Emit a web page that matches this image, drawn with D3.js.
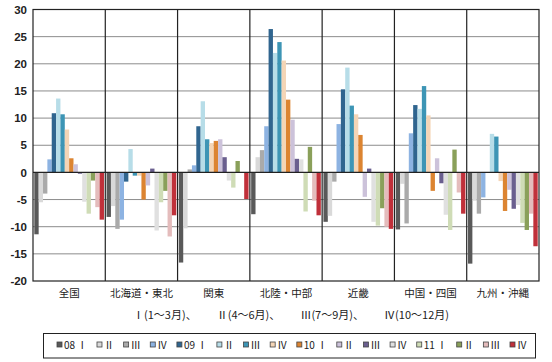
<!DOCTYPE html>
<html><head><meta charset="utf-8">
<script src="https://cdn.jsdelivr.net/npm/d3@7"></script>
<style>
body{margin:0;background:#fff;}
svg{display:block;}
text{font-family:"Noto Sans CJK JP","Noto Sans",sans-serif;fill:#222;}
</style></head>
<body>
<svg id="c" width="552" height="362"></svg>
<script>
const regions = ["全国","北海道・東北","関東","北陸・中部","近畿","中国・四国","九州・沖縄"];
const seriesLabels = ["08 Ⅰ","Ⅱ","Ⅲ","Ⅳ","09 Ⅰ","Ⅱ","Ⅲ","Ⅳ","10 Ⅰ","Ⅱ","Ⅲ","Ⅳ","11 Ⅰ","Ⅱ","Ⅲ","Ⅳ"];
const seriesColors = ["#595959","#d9d9d9","#aaaaaa","#8db3e2","#30658f","#b7dde8","#3d95b5","#f4d5b6",
                      "#dc8431","#ccc2da","#6a5f8f","#e0e0e0","#cfdcb6","#8aa05a","#e4bcbc","#c0303a"];
// values[regionIndex][seriesIndex]
const zenkoku   = [-11.4,-5.5,-3.9, 2.4,10.9,13.6,10.7, 7.9, 2.6, 1.5,-0.25,-5.4,-7.6,-1.5,-6.4,-8.7];
const hokkaido  = [-8.2,-6.2,-10.4,-8.7,-1.7, 4.3,-0.6,-0.6,-5.0,-2.4, 0.7,-10.7,-5.5,-3.4,-11.8,-7.9];
const kanto     = [-16.6,-10.3, 0.55, 1.3, 8.5,13.1, 6.1, 5.4, 5.8, 6.1, 2.8,-1.5,-2.8, 2.1, 0,-4.9];
const hokuriku  = [-7.7, 2.8, 4.1, 8.5,26.4,22.0,24.0,20.6,13.4, 9.7, 2.5, 2.4,-7.2, 4.7,-5.2,-7.9];
const kinki     = [-9.1,-8.0,-1.7, 8.9,15.3,19.3,12.3,10.7, 6.9,-4.5, 0.7,-9.1,-9.8,-6.6,-10.0,-10.4];
const chugoku   = [-10.5,-2.1,-9.4, 7.2,12.4,11.7,15.9,10.5,-3.4, 2.6,-2.0,-7.8,-10.6, 4.2,-3.7,-7.6];
const kyushu    = [-16.8,-5.2,-7.6,-4.6, 0, 7.1, 6.6,-1.6,-7.1,-3.2,-6.7,-6.0,-9.3,-10.6,-7.6,-13.6];
const values = [zenkoku,hokkaido,kanto,hokuriku,kinki,chugoku,kyushu];
const yTicks = [30,25,20,15,10,5,0,-5,-10,-15,-20];
const subtitleParts = ["Ⅰ(1～3月)、","Ⅱ(4～6月)、","Ⅲ(7～9月)、","Ⅳ(10～12月)"];

const svg = d3.select("#c");
const L=33, R=539, T=9.5, B=281;
const x0 = d3.scaleBand().domain(regions).range([L,R]).padding(0);
const x1 = d3.scaleBand().domain(d3.range(16)).range([0,x0.bandwidth()]).paddingInner(0).paddingOuter(0.3);
const y = d3.scaleLinear().domain([-20,30]).range([B,T]);

// gridlines
svg.append("g").selectAll("line").data(yTicks.filter(t=>t!==0 && t!==30 && t!==-20)).join("line")
  .attr("x1",L).attr("x2",R).attr("y1",d=>y(d)).attr("y2",d=>y(d))
  .attr("stroke","#8c8c8c").attr("stroke-width",1);

// bars
const g = svg.append("g");
regions.forEach((r,ri)=>{
  g.append("g").selectAll("rect").data(values[ri]).join("rect")
    .attr("x",(d,i)=>x0(r)+x1(i))
    .attr("width",x1.bandwidth())
    .attr("y",d=>y(Math.max(0,d)))
    .attr("height",d=>Math.abs(y(d)-y(0)))
    .attr("fill",(d,i)=>seriesColors[i]);
});

// zero line
svg.append("line").attr("x1",L).attr("x2",R).attr("y1",y(0)).attr("y2",y(0))
  .attr("stroke","#222").attr("stroke-width",1.2);
// dividers
svg.append("g").selectAll("line").data(regions.slice(1)).join("line")
  .attr("x1",d=>x0(d)).attr("x2",d=>x0(d)).attr("y1",T).attr("y2",B)
  .attr("stroke","#222").attr("stroke-width",1.2);
// frame
svg.append("rect").attr("x",L).attr("y",T).attr("width",R-L).attr("height",B-T)
  .attr("fill","none").attr("stroke","#222").attr("stroke-width",1.2);

// y axis labels
const ya = svg.append("g").attr("transform",`translate(${L},0)`)
  .call(d3.axisLeft(y).tickValues(yTicks).tickSize(0).tickPadding(6).tickFormat(d=>d<0?"-"+Math.abs(d):d));
ya.select(".domain").remove();
ya.selectAll("text").style("font-family","'Liberation Sans Narrow','Liberation Sans',sans-serif")
  .style("font-weight","bold").style("font-size","11.5px").attr("fill","#222");

// category labels
svg.append("g").selectAll("text").data(regions).join("text")
  .attr("x",d=>x0(d)+x0.bandwidth()/2).attr("y",297)
  .attr("text-anchor","middle").style("font-size","10.5px").text(d=>d);

// subtitle
svg.append("g").selectAll("text").data(subtitleParts).join("text")
  .attr("x",(d,i)=>133+i*83.7).attr("y",319)
  .style("font-size","11px").text(d=>d);

// legend
const lg = svg.append("g");
lg.append("rect").attr("x",43.5).attr("y",333.5).attr("width",492).attr("height",24.5)
  .attr("fill","#fff").attr("stroke","#222").attr("stroke-width",1);
const items = lg.selectAll("g.it").data(seriesLabels).join("g").attr("class","it");
items.append("rect").attr("width",5).attr("height",5).attr("y",342)
  .attr("fill",(d,i)=>seriesColors[i]).attr("stroke","#444").attr("stroke-width",0.8);
items.append("text").attr("y",348.5).style("font-size","10px").text(d=>d);
// compute layout from text widths
const widths = [];
items.select("text").each(function(){widths.push(this.getComputedTextLength());});
const startX = 57, endX = 527;
const itemW = widths.map(w=>5+2+w);
const gap = (endX-startX-d3.sum(itemW))/(seriesLabels.length-1);
let cx = startX;
items.each(function(d,i){
  const s=d3.select(this);
  s.select("rect").attr("x",cx);
  s.select("text").attr("x",cx+7);
  cx += itemW[i]+gap;
});
</script>
</body></html>
